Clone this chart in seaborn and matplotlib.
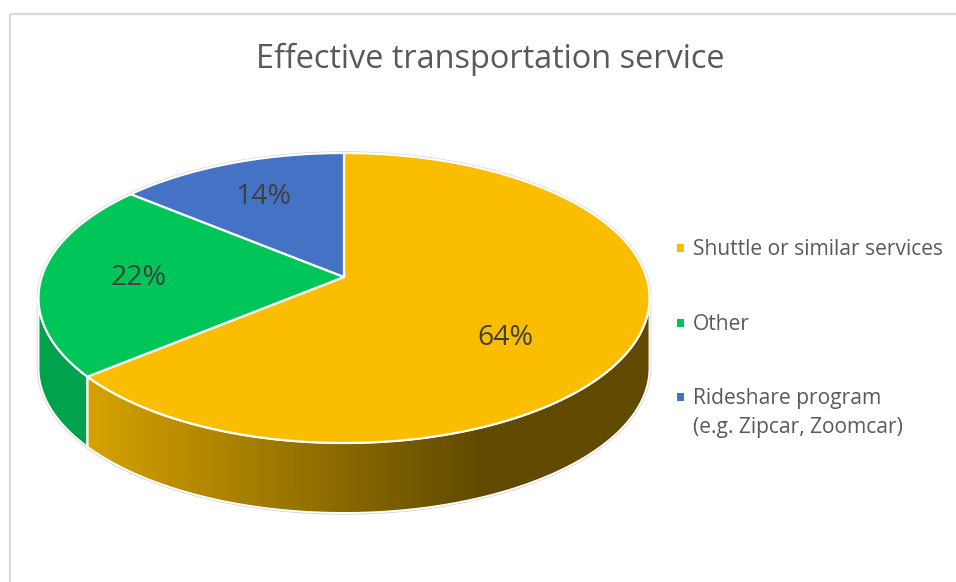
import numpy as np
import matplotlib.pyplot as plt
from matplotlib.patches import Polygon, Rectangle
from matplotlib.colors import LinearSegmentedColormap
import seaborn as sns

# data (Excel order: clockwise from 12 o'clock)
categories = ["Shuttle or similar services", "Other", "Rideshare program\n(e.g. Zipcar, Zoomcar)"]
shares = [64, 22, 14]
top_colors = ["#FABD00", "#00C65A", "#4472C4"]
side_colors = ["#D6A300", "#00A24E", "#365A9C"]
side_dark = ["#614A00", "#00A24E", "#365A9C"]
title = "Effective transportation service"

# label placement (radius fraction, y nudge in px)
label_r = [0.57, 0.68, 0.68]
label_dy = [25, 1, 0]

sns.set_theme(style="white")
plt.rcParams['font.family'] = ['Open Sans', 'DejaVu Sans']

# tilted disc geometry, in pixels
CX, CY = 344, 277
A, B, P = 302.3, 141.96, 0.1448
DEPTH = 70
W, H = 956, 582


def proj(theta, r=1.0):
    t = np.radians(theta)
    w = 1 + P * r * np.sin(t)
    return CX + A * r * np.cos(t) / w, CY - B * r * np.sin(t) / w


def arc(t0, t1, n=200):
    th = np.linspace(t0, t1, n)
    x, y = proj(th)
    return np.column_stack([x, y])


fig = plt.figure(figsize=(W / 100, H / 100), dpi=100)
ax = fig.add_axes([0, 0, 1, 1])
ax.set_xlim(0, W)
ax.set_ylim(H, 0)
ax.axis('off')

# chart area border (only top and left visible)
ax.plot([10, W], [14, 14], color="#D9D9D9", lw=1.6, solid_capstyle='butt')
ax.plot([10, 10], [14, H], color="#D9D9D9", lw=1.6, solid_capstyle='butt')

edges = 90 - np.concatenate([[0], np.cumsum(shares)]) * 3.6
tang = np.degrees(np.arcsin(P))
vis0, vis1 = -180 + tang, -tang

# faint outline of the whole disc
top_back = arc(vis1, 360 + vis0)
bot_front = arc(vis0, vis1) + [0, DEPTH]
ax.add_patch(Polygon(np.vstack([top_back, bot_front]), closed=True,
                     facecolor="none", edgecolor="#CFCFCF", lw=2.4, zorder=1))

# side walls
xs = np.linspace(0, W, 400)
for i in range(len(shares)):
    lo, hi = edges[i + 1], edges[i]
    a0, a1 = max(lo, vis0), min(hi, vis1)
    if a0 >= a1:
        continue
    pts = np.vstack([arc(a0, a1), arc(a1, a0) + [0, DEPTH]])
    poly = Polygon(pts, closed=True, facecolor="none", edgecolor="white", lw=1.4, zorder=3)
    ax.add_patch(poly)
    cmap = LinearSegmentedColormap.from_list("side%d" % i, [side_colors[i], side_dark[i]])
    grad = np.clip((xs - 85) / (480 - 85), 0, 1)[None, :]
    im = ax.imshow(grad, cmap=cmap, vmin=0, vmax=1, extent=(0, W, H, 0),
                   aspect='auto', zorder=2, interpolation='bilinear')
    im.set_clip_path(poly)

# top face
for i in range(len(shares)):
    lo, hi = edges[i + 1], edges[i]
    pts = np.vstack([[CX, CY], arc(lo, hi)])
    ax.add_patch(Polygon(pts, closed=True, facecolor=top_colors[i],
                         edgecolor="white", lw=1.6, joinstyle='round', zorder=4))
    mid = (lo + hi) / 2
    lx, ly = proj(mid, label_r[i])
    ax.text(lx, ly + label_dy[i], f"{shares[i]}%", ha='center', va='center',
            fontsize=20.5, color="#404040", zorder=5)

# title
ax.text(490, 68, title, ha='center', va='baseline', fontsize=23.4, color="#595959")

# legend
rows = [255, 330, 404]
line_gap = 29
for i in range(len(shares)):
    ax.add_patch(Rectangle((677, rows[i] - 11), 7.5, 7.5, facecolor=top_colors[i],
                           edgecolor="none", zorder=5))
    for k, line in enumerate(categories[i].split("\n")):
        ax.text(693, rows[i] + k * line_gap, line, ha='left', va='baseline',
                fontsize=15.1, color="#595959")

fig.savefig("out.png", dpi=100)
